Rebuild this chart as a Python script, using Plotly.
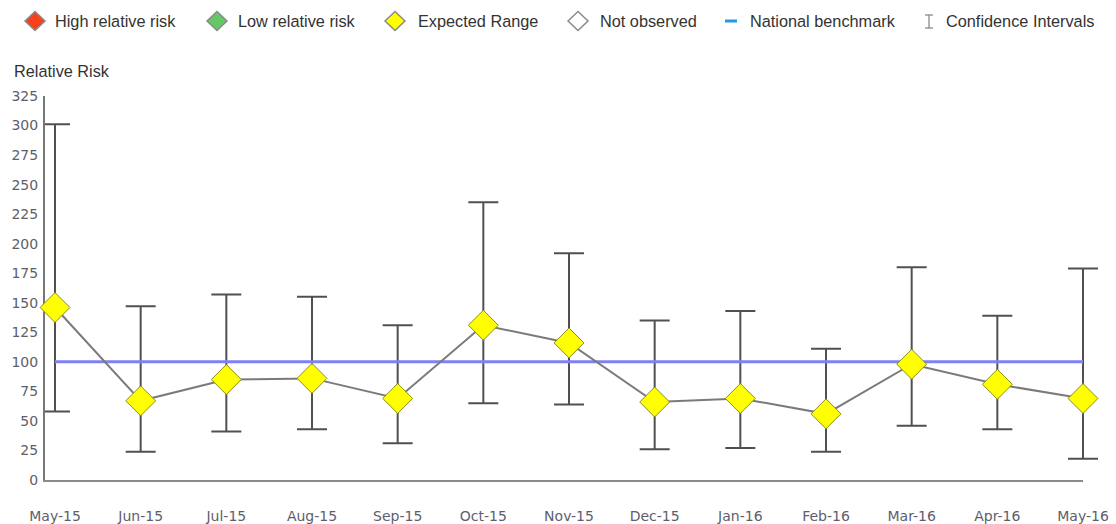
import plotly.graph_objects as go

months = ["May-15", "Jun-15", "Jul-15", "Aug-15", "Sep-15", "Oct-15", "Nov-15",
          "Dec-15", "Jan-16", "Feb-16", "Mar-16", "Apr-16", "May-16"]
relative_risk = [146, 67, 85, 86, 69, 131, 116, 66, 69, 56, 98, 81, 69]
ci_upper = [301, 147, 157, 155, 131, 235, 192, 135, 143, 111, 180, 139, 179]
ci_lower = [58, 24, 41, 43, 31, 65, 64, 26, 27, 24, 46, 43, 18]
benchmark = [100] * len(months)

legend_labels = ["High relative risk", "Low relative risk", "Expected Range",
                 "Not observed", "National benchmark", "Confidence Intervals"]

W, H = 1116, 524
ML, MR, MT, MB = 45, 13, 96, 44
PLOT_RIGHT = 1083                    # right edge of the visible plot area
PW, PH = W - ML - MR, H - MT - MB
MAIN_W = PLOT_RIGHT - ML

def px(x):
    return (x - ML) / PW

def py(y):
    return (H - MB - y) / PH

xs = list(range(len(months)))
err_plus = [u - v for u, v in zip(ci_upper, relative_risk)]
err_minus = [v - l for v, l in zip(relative_risk, ci_lower)]

# main axis: left pad of 10px before first category, last category at right edge
x0 = -10.0 / ((MAIN_W - 10.0) / 12.0)
x_main = [x0, 12.0]
per_px = (x_main[1] - x_main[0]) / MAIN_W
x_wide = [x0, x0 + per_px * PW]

fig = go.Figure()

# dummy trace so the main subplot exists
fig.add_trace(go.Scatter(x=[0], y=[0], mode="markers", marker=dict(opacity=0),
                         xaxis="x", yaxis="y", hoverinfo="skip", showlegend=False))

# confidence intervals
fig.add_trace(go.Scatter(
    x=xs, y=relative_risk, mode="markers", xaxis="x2", yaxis="y2",
    marker=dict(size=1, opacity=0),
    error_y=dict(type="data", symmetric=False, array=err_plus, arrayminus=err_minus,
                 color="#505050", thickness=2, width=15),
    cliponaxis=False, hoverinfo="skip", showlegend=False))

# national benchmark
fig.add_trace(go.Scatter(
    x=xs, y=benchmark, mode="lines", xaxis="x2", yaxis="y2",
    line=dict(color="#8080f4", width=3),
    cliponaxis=False, showlegend=False))

# relative risk series
fig.add_trace(go.Scatter(
    x=xs, y=relative_risk, mode="lines+markers", xaxis="x2", yaxis="y2",
    line=dict(color="#7a7a7a", width=2),
    marker=dict(symbol="diamond", size=23, color="#ffff00",
                line=dict(color="#8c8c1e", width=1)),
    cliponaxis=False, showlegend=False))

shapes = []
annotations = []

# custom legend
text_x = [53, 236, 416, 598, 748, 944]
ly = 21
diamonds = [(35, "#f5411c"), (217, "#66c766"), (395, "#ffff00"), (578, "#ffffff")]
for cx, col in diamonds:
    hw, hh = 10, 9.5
    path = (f"M {px(cx - hw)},{py(ly)} L {px(cx)},{py(ly - hh)} "
            f"L {px(cx + hw)},{py(ly)} L {px(cx)},{py(ly + hh)} Z")
    shapes.append(dict(type="path", xref="paper", yref="paper", path=path,
                       fillcolor=col, line=dict(color="#8a8a8a", width=1.5), layer="above"))
shapes.append(dict(type="line", xref="paper", yref="paper",
                   x0=px(725), x1=px(737), y0=py(ly), y1=py(ly),
                   line=dict(color="#1e9be8", width=3), layer="above"))
for (a0, b0, a1, b1) in [(929, 15, 929, 28), (925, 15, 933, 15), (925, 28, 933, 28)]:
    shapes.append(dict(type="line", xref="paper", yref="paper",
                       x0=px(a0), x1=px(a1), y0=py(b0), y1=py(b1),
                       line=dict(color="#8a8a8a", width=1.3), layer="above"))

for tx, lab in zip(text_x, legend_labels):
    annotations.append(dict(text=lab, xref="paper", yref="paper", x=px(tx), y=py(ly),
                            xanchor="left", yanchor="middle", showarrow=False,
                            font=dict(family="Liberation Sans, Arial", size=16.3, color="#333333")))

annotations.append(dict(text="Relative Risk", xref="paper", yref="paper",
                        x=px(12), y=py(71), xanchor="left", yanchor="middle", showarrow=False,
                        font=dict(family="Liberation Sans, Arial", size=16.3, color="#333333")))

tickfont = dict(family="DejaVu Sans", size=14, color="#5e5e6a")

fig.update_layout(
    width=W, height=H,
    margin=dict(l=ML, r=MR, t=MT, b=MB, pad=0, autoexpand=False),
    paper_bgcolor="white", plot_bgcolor="white",
    showlegend=False,
    shapes=shapes, annotations=annotations,
    xaxis=dict(domain=[0, MAIN_W / PW], range=x_main, tickvals=xs, ticktext=months,
               showgrid=True, gridcolor="#eeeee8", gridwidth=1,
               showline=True, linecolor="#8a8a8a", linewidth=2,
               zeroline=False, ticks="", ticklabelstandoff=22, automargin=False,
               tickfont=tickfont, anchor="y"),
    yaxis=dict(domain=[0, 1], range=[0, 325], dtick=25, tick0=0,
               showgrid=True, gridcolor="#eeeee8", gridwidth=1,
               showline=True, linecolor="#777777", linewidth=2,
               zeroline=False, ticks="", ticklabelstandoff=2, automargin=False,
               tickfont=tickfont, anchor="x"),
    xaxis2=dict(domain=[0, 1], range=x_wide, visible=False, showgrid=False,
                zeroline=False, anchor="y2"),
    yaxis2=dict(domain=[0, 1], range=[0, 325], visible=False, showgrid=False,
                zeroline=False, anchor="x2"),
)

fig.write_html("out.html")
